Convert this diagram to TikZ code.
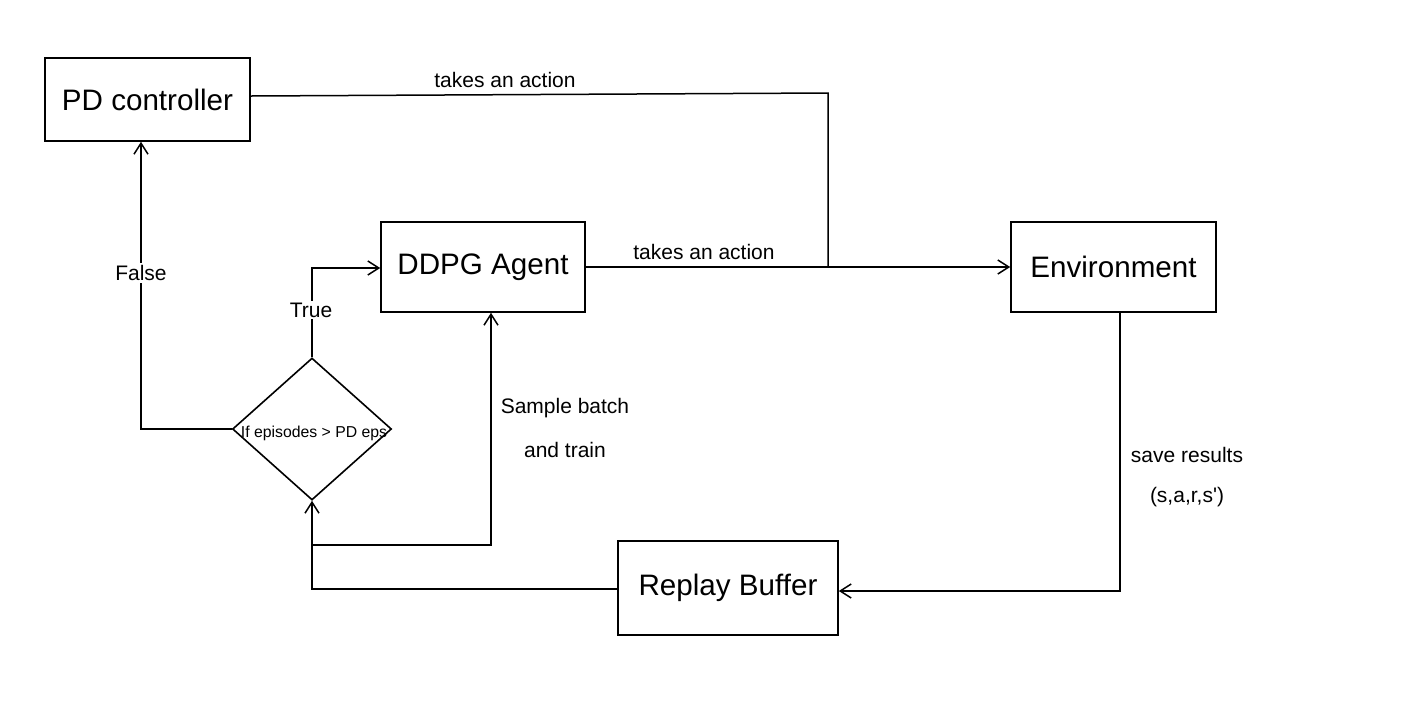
\documentclass[tikz,border=0pt]{standalone}
\usepackage{fontspec}
\setmainfont{Liberation Sans}
\usetikzlibrary{arrows.meta,shapes.geometric}
\begin{document}
\begin{tikzpicture}[x=0.5pt,y=-0.5pt,
  box/.style={draw,line width=0.8pt,font=\fontsize{14.8}{17}\selectfont,inner sep=0pt},
  lbl/.style={font=\fontsize{10.5}{12}\selectfont,inner sep=1pt},
  onl/.style={lbl,fill=white},
  conn/.style={line width=0.75pt},
  arr/.style={conn,-{Straight Barb[length=5.5pt,width=7pt,line width=0.75pt]}}]
\useasboundingbox (0,0) rectangle (1404,708);
\fill[white] (0,0) rectangle (1404,708);
\node[box,minimum width=102.5pt,minimum height=41.5pt] (pd) at (147.5,99.5) {PD controller};
\node[box,minimum width=102pt,minimum height=45pt] (ddpg) at (483,267) {DDPG Agent};
\node[box,minimum width=102.5pt,minimum height=45pt] (env) at (1113.5,267) {Environment};
\node[box,minimum width=110pt,minimum height=47pt] (rb) at (728,588) {Replay Buffer};
\node[draw,diamond,line width=0.8pt,minimum width=79.5pt,minimum height=71pt,inner sep=0pt] (dec) at (312,429) {};
\node[font=\fontsize{7.9}{9}\selectfont,inner sep=0pt] (dectext) at (314,433) {If episodes > PD eps};
% connectors
\coordinate (j1) at (828,93);
\coordinate (j2) at (828,267);
\coordinate (s1) at (312,545);
\coordinate (s2) at (491,545);
\draw[conn] (pd.east |- 0,96) -- (j1) -- (j2);
\draw[arr] (ddpg.east) -- (env.west);
\draw[arr] (env.south -| 1120,0) -- (1120,591) -- (rb.east |- 0,591);
\draw[arr] (rb.west |- 0,589) -- (312,589) -- (dec.south);
\draw[arr] (dec.north) -- (312,268) -- (ddpg.west |- 0,268);
\draw[arr] (dec.west) -- (141,429) -- (pd.south -| 141,0);
\draw[arr] (s1) -- (s2) -- (ddpg.south -| s2);
% labels
\node[lbl] (l1) at (505,80) {takes an action};
\node[lbl] (l2) at (704,252) {takes an action};
\node[onl] (lf) at (141,273) {False};
\node[onl] (lt) at (311,310) {True};
\node[lbl] (ls1) at (565,408) {Sample batch};
\node[lbl] (ls2) at (565,450) {and train};
\node[lbl] (lr1) at (1187,455) {save results};
\node[lbl] (lr2) at (1187,497) {(s,a,r,s\textquotesingle)};
\end{tikzpicture}
\end{document}
